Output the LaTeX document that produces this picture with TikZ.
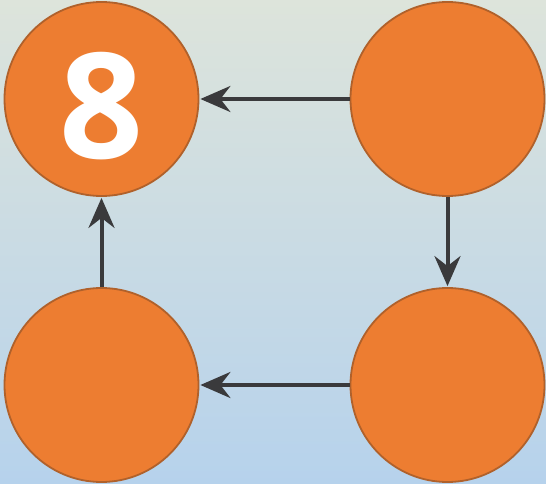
\documentclass[tikz,border=0pt]{standalone}
\usepackage{fontspec}
\newfontfamily\numfont{Open Sans}
\usetikzlibrary{arrows.meta}
\definecolor{bgtop}{HTML}{DDE4DB}
\definecolor{bgbot}{HTML}{B6D2EC}
\definecolor{orangefill}{HTML}{ED7D31}
\definecolor{orangeline}{HTML}{B0612B}
\definecolor{arrowgray}{HTML}{3A3A3C}
\tikzset{
  ball/.style={circle, draw=orangeline, line width=1.8pt, fill=orangefill, minimum size=194pt, inner sep=0pt},
  numlabel/.style={inner sep=0pt, text=white, font=\numfont\bfseries\fontsize{147}{147}\selectfont},
  link/.style={draw=arrowgray, line width=4pt, -{Stealth[length=30pt, width=26pt, inset=10pt]}, shorten >=1pt}
}
\begin{document}
\begin{tikzpicture}[x=1pt,y=-1pt]
\shade[top color=bgtop, bottom color=bgbot] (0,0) rectangle (546,484);
\useasboundingbox (0,0) rectangle (546,484);
\node[ball] (tl) at (101.5,99) {};
\node[ball] (tr) at (447.5,99) {};
\node[ball] (bl) at (101.5,385) {};
\node[ball] (br) at (447.5,385) {};
\node[numlabel] (eight) at (101.5,106.5) {8};
\draw[link] (tr) -- (tl);
\draw[link] (tr) -- (br);
\draw[link] (br) -- (bl);
\draw[link] (bl) -- (tl);
\end{tikzpicture}
\end{document}
